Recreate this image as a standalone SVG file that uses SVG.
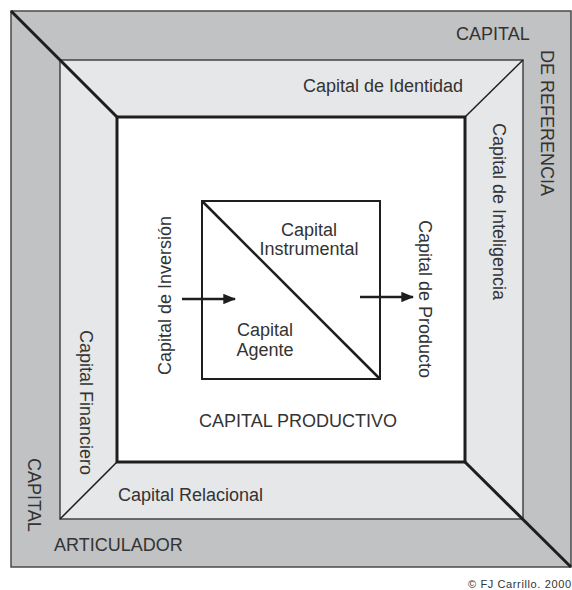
<svg xmlns="http://www.w3.org/2000/svg" width="572" height="590" viewBox="0 0 572 590">
<defs>
<marker id="ah" markerWidth="5" markerHeight="4" refX="4.5" refY="2" orient="auto" markerUnits="strokeWidth">
<path d="M0,0 L5,2 L0,4 Z" fill="#1e1e1e"/>
</marker>
<style>
text{font-family:"Liberation Sans",Arial,sans-serif;font-size:18px;fill:#333}
.edge{fill:none;stroke:#1e1e1e}
</style>
</defs>
<rect width="572" height="590" fill="#fff"/>
<g id="capital-referencia-articulador">
<rect x="11" y="11" width="560" height="556" fill="#c1c2c4" stroke="#4a4a4a" stroke-width="1.5"/>
<text x="456" y="39.5">CAPITAL</text>
<text transform="translate(541,50) rotate(90)">DE REFERENCIA</text>
<text transform="translate(28,458) rotate(90)">CAPITAL</text>
<text x="54" y="551">ARTICULADOR</text>
</g>
<g id="capital-identidad-inteligencia-financiero-relacional">
<rect x="60" y="60" width="463" height="459" fill="#e6e7e8" stroke="#444" stroke-width="1.5"/>
<text x="303" y="92">Capital de Identidad</text>
<text transform="translate(493,123) rotate(90)">Capital de Inteligencia</text>
<text transform="translate(80,330) rotate(90)">Capital Financiero</text>
<text x="118" y="501">Capital Relacional</text>
</g>
<g id="diagonals">
<line x1="11" y1="11" x2="117" y2="117" stroke="#1e1e1e" stroke-width="3"/>
<line x1="465" y1="462" x2="571" y2="567" stroke="#1e1e1e" stroke-width="3"/>
<line x1="465" y1="117" x2="523" y2="60" stroke="#1e1e1e" stroke-width="1.5"/>
<line x1="60" y1="519" x2="117" y2="462" stroke="#1e1e1e" stroke-width="1.5"/>
</g>
<g id="capital-productivo">
<rect x="117" y="117" width="348" height="345" fill="#fff" stroke="#1e1e1e" stroke-width="3"/>
<text x="298" y="427" text-anchor="middle">CAPITAL PRODUCTIVO</text>
<text transform="translate(171,375) rotate(-90)">Capital de Inversión</text>
<text transform="translate(419,220) rotate(90)">Capital de Producto</text>
</g>
<g id="capital-instrumental-agente">
<rect x="202" y="201" width="178" height="178" fill="#fff" stroke="#1e1e1e" stroke-width="2"/>
<line x1="202" y1="201" x2="380" y2="379" stroke="#1e1e1e" stroke-width="2.5"/>
<text x="309" y="235.5" text-anchor="middle">Capital</text>
<text x="309" y="255" text-anchor="middle">Instrumental</text>
<text x="265" y="336" text-anchor="middle">Capital</text>
<text x="265" y="355.5" text-anchor="middle">Agente</text>
</g>
<g id="connectors">
<line class="edge" x1="182" y1="299" x2="235" y2="299" stroke-width="2.6" marker-end="url(#ah)"/>
<line class="edge" x1="360" y1="297" x2="413" y2="297" stroke-width="2.6" marker-end="url(#ah)"/>
</g>
<g id="copyright">
<text x="468" y="588" style="font-size:11px" textLength="103" lengthAdjust="spacing">© FJ Carrillo. 2000</text>
</g>
</svg>
